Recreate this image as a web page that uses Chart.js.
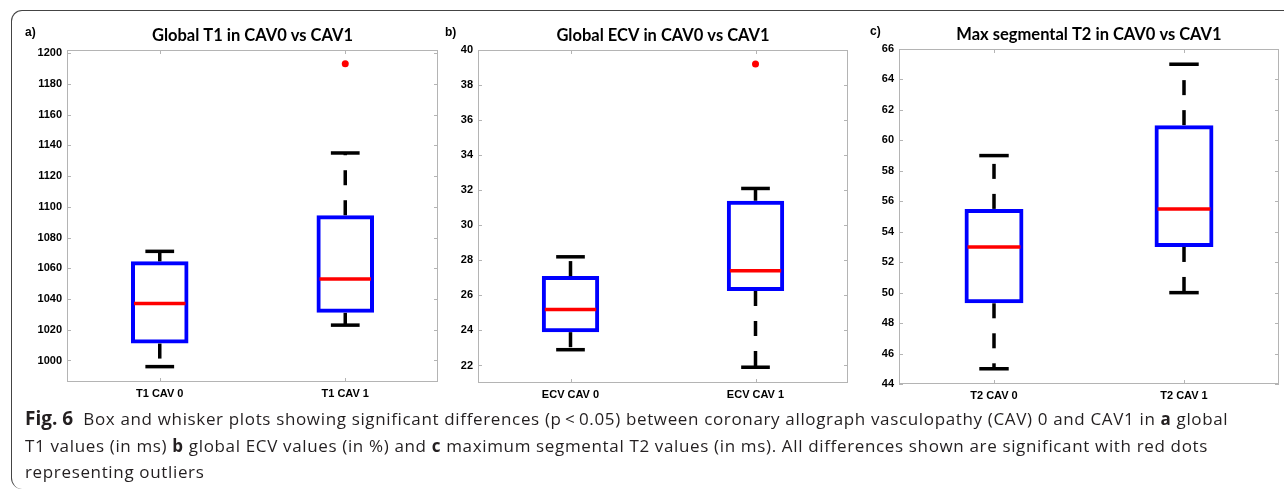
<!DOCTYPE html>
<html>
<head>
<meta charset="utf-8">
<script src="https://cdn.jsdelivr.net/npm/chart.js@4.4.0/dist/chart.umd.min.js"></script>
<style>
  body { margin: 0; background: #fff; width: 1284px; height: 492px; overflow: hidden; position: relative; }
  .frame { position: absolute; left: 11px; top: 10px; width: 1290px; height: 478px;
           border-top: 1.3px solid #444; border-left: 1.3px solid #444;
           border-top-left-radius: 11px; border-bottom-left-radius: 11px; }
  .panel { position: absolute; }
  .caption { position: absolute; left: 25px; top: 405px; font-family: "Open Sans", sans-serif;
             font-size: 17px; line-height: 26.5px; color: #231f20; white-space: nowrap; letter-spacing: 0.65px; }
  .caption b { font-weight: 700; }
</style>
</head>
<body>
<div class="frame"></div>

<div class="panel" style="left:20px;top:14px;width:422px;height:396px"><canvas id="chartA"></canvas></div>
<div class="panel" style="left:431px;top:14px;width:421px;height:397px"><canvas id="chartB"></canvas></div>
<div class="panel" style="left:852px;top:13px;width:431px;height:399px"><canvas id="chartC"></canvas></div>

<div class="caption">
  <b style="font-size:19px;letter-spacing:0">Fig. 6</b>&nbsp;&nbsp;Box and whisker plots showing significant differences (p&thinsp;&lt;&thinsp;0.05) between coronary allograph vasculopathy (CAV) 0 and CAV1 in <b>a</b> global<br>
  T1 values (in ms) <b>b</b> global ECV values (in %) and <b>c</b> maximum segmental T2 values (in ms). All differences shown are significant with red dots<br>
  representing outliers
</div>

<script>
// panel a: global T1 (ms)
const t1Labels = ['T1 CAV 0', 'T1 CAV 1'];
const t1Min = [996, 1023];
const t1Q1 = [1011, 1031];
const t1Median = [1037, 1053];
const t1Q3 = [1064.5, 1094.5];
const t1Max = [1071, 1135];
const t1Outliers = [{ x: 'T1 CAV 1', y: 1193 }];
const t1Ticks = [1000, 1020, 1040, 1060, 1080, 1100, 1120, 1140, 1160, 1180, 1200];

// panel b: global ECV (%)
const ecvLabels = ['ECV CAV 0', 'ECV CAV 1'];
const ecvMin = [22.9, 21.9];
const ecvQ1 = [23.9, 26.25];
const ecvMedian = [25.2, 27.4];
const ecvQ3 = [27.1, 31.4];
const ecvMax = [28.2, 32.1];
const ecvOutliers = [{ x: 'ECV CAV 1', y: 39.2 }];
const ecvTicks = [22, 24, 26, 28, 30, 32, 34, 36, 38, 40];

// panel c: max segmental T2 (ms)
const t2Labels = ['T2 CAV 0', 'T2 CAV 1'];
const t2Min = [45, 50];
const t2Q1 = [49.3, 53];
const t2Median = [53, 55.5];
const t2Q3 = [55.5, 61];
const t2Max = [59, 65];
const t2Outliers = [];
const t2Ticks = [44, 46, 48, 50, 52, 54, 56, 58, 60, 62, 64, 66];

const tickFont = { family: '"Liberation Sans", Arial, sans-serif', size: 11, weight: 'bold' };

// whiskers, caps, medians, plot frame and titles, all placed through the chart scales
const boxPlugin = {
    id: 'boxExtras',
    afterDatasetsDraw(chart, args, opts) {
        const { ctx, chartArea: a, scales: { x, y } } = chart;
        const bars = chart.getDatasetMeta(0).data;
        const seg = (x1, y1, x2, y2) => { ctx.beginPath(); ctx.moveTo(x1, y1); ctx.lineTo(x2, y2); ctx.stroke(); };
        ctx.save();

        // box around the plot area + inner tick marks
        ctx.strokeStyle = '#b4b4b4';
        ctx.lineWidth = 1;
        ctx.strokeRect(a.left + 0.5, a.top + 0.5, a.right - a.left - 1, a.bottom - a.top - 1);
        y.ticks.forEach(t => {
            const py = Math.round(y.getPixelForValue(t.value)) + 0.5;
            seg(a.left, py, a.left + 4, py);
            seg(a.right - 4, py, a.right, py);
        });
        x.ticks.forEach((t, i) => {
            const px = Math.round(x.getPixelForValue(i)) + 0.5;
            seg(px, a.top, px, a.top + 4);
            seg(px, a.bottom - 4, px, a.bottom);
        });

        bars.forEach((bar, i) => {
            const cx = bar.x;
            const half = bar.width / 2;
            const yMax = y.getPixelForValue(opts.max[i]);
            const yMin = y.getPixelForValue(opts.min[i]);
            const yQ3 = y.getPixelForValue(opts.q3[i]);
            const yQ1 = y.getPixelForValue(opts.q1[i]);
            const yMed = y.getPixelForValue(opts.median[i]);

            ctx.strokeStyle = '#000';
            ctx.lineWidth = 3.5;
            ctx.setLineDash([15, 15]);
            seg(cx, yQ3, cx, yMax);
            seg(cx, yQ1, cx, yMin);
            ctx.setLineDash([]);
            seg(cx - half / 2, yMax, cx + half / 2, yMax);
            seg(cx - half / 2, yMin, cx + half / 2, yMin);

            ctx.strokeStyle = '#ff0000';
            seg(cx - half + 3, yMed, cx + half - 3, yMed);
        });

        // title over the plot and panel letter
        ctx.fillStyle = '#000';
        ctx.textBaseline = 'middle';
        ctx.font = 'bold 16.5px Lato, "Open Sans", sans-serif';
        ctx.textAlign = 'center';
        ctx.fillText(opts.title, (a.left + a.right) / 2, a.top - 14);
        ctx.font = 'bold 12px "Liberation Sans", Arial, sans-serif';
        ctx.textAlign = 'left';
        ctx.fillText(opts.letter, opts.letterX, a.top - 17);
        ctx.restore();
    }
};

function makeBox(id, labels, min, q1, median, q3, max, outliers, ticks, yMin, yMax, title, letter, letterX) {
    const ctx = document.getElementById(id).getContext('2d');
    return new Chart(ctx, {
        data: {
            labels: labels,
            datasets: [{
                type: 'bar',
                data: q1.map((v, i) => [v, q3[i]]),
                backgroundColor: 'rgba(255,255,255,0)',
                borderColor: '#0000ff',
                borderWidth: 4,
                borderSkipped: false,
                barPercentage: 1,
                categoryPercentage: 0.31
            }, {
                type: 'scatter',
                data: outliers,
                backgroundColor: '#ff0000',
                borderWidth: 0,
                pointRadius: 3.5
            }]
        },
        options: {
            responsive: true,
            maintainAspectRatio: false,
            animation: false,
            layout: { padding: { top: 36, right: 4, left: 0, bottom: 0 } },
            plugins: {
                legend: { display: false },
                tooltip: { enabled: false },
                boxExtras: { min, q1, median, q3, max, title, letter, letterX }
            },
            scales: {
                x: {
                    type: 'category',
                    offset: true,
                    grid: { display: false, drawTicks: false },
                    border: { display: false },
                    ticks: { color: '#000', font: tickFont, padding: 5, maxRotation: 0 },
                    afterFit: s => { s.height = 28; }
                },
                y: {
                    min: yMin,
                    max: yMax,
                    grid: { display: false, drawTicks: false },
                    border: { display: false },
                    ticks: { color: '#000', font: tickFont, padding: 5, callback: v => String(v) },
                    afterBuildTicks: s => { s.ticks = ticks.map(v => ({ value: v })); },
                    afterFit: s => { s.width = 47; }
                }
            }
        },
        plugins: [boxPlugin]
    });
}

makeBox('chartA', t1Labels, t1Min, t1Q1, t1Median, t1Q3, t1Max, t1Outliers, t1Ticks, 986, 1202,
    'Global T1 in CAV0 vs CAV1', 'a)', 5);
makeBox('chartB', ecvLabels, ecvMin, ecvQ1, ecvMedian, ecvQ3, ecvMax, ecvOutliers, ecvTicks, 21, 40,
    'Global ECV in CAV0 vs CAV1', 'b)', 14);
makeBox('chartC', t2Labels, t2Min, t2Q1, t2Median, t2Q3, t2Max, t2Outliers, t2Ticks, 44, 66,
    'Max segmental T2 in CAV0 vs CAV1', 'c)', 18);
</script>
</body>
</html>
